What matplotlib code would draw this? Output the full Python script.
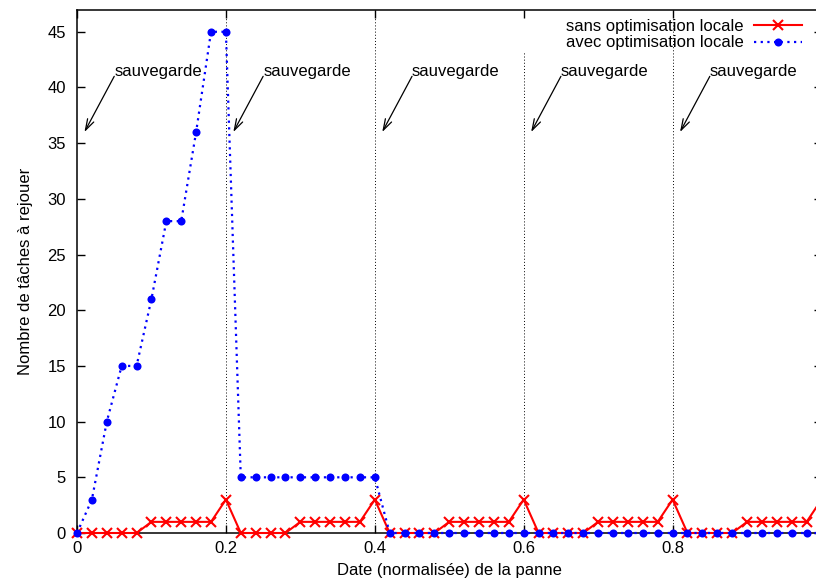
import numpy as np
import matplotlib
matplotlib.use("Agg")
import matplotlib.pyplot as plt

# ---- Data ----
dates = [0.00, 0.02, 0.04, 0.06, 0.08, 0.10, 0.12, 0.14, 0.16, 0.18,
         0.20, 0.22, 0.24, 0.26, 0.28, 0.30, 0.32, 0.34, 0.36, 0.38,
         0.40, 0.42, 0.44, 0.46, 0.48, 0.50, 0.52, 0.54, 0.56, 0.58,
         0.60, 0.62, 0.64, 0.66, 0.68, 0.70, 0.72, 0.74, 0.76, 0.78,
         0.80, 0.82, 0.84, 0.86, 0.88, 0.90, 0.92, 0.94, 0.96, 0.98,
         1.00]

sans_optim = [0, 0, 0, 0, 0, 1, 1, 1, 1, 1,
              3, 0, 0, 0, 0, 1, 1, 1, 1, 1,
              3, 0, 0, 0, 0, 1, 1, 1, 1, 1,
              3, 0, 0, 0, 0, 1, 1, 1, 1, 1,
              3, 0, 0, 0, 0, 1, 1, 1, 1, 1,
              3]

avec_optim = [0, 3, 10, 15, 15, 21, 28, 28, 36, 45,
              45, 5, 5, 5, 5, 5, 5, 5, 5, 5,
              5, 0, 0, 0, 0, 0, 0, 0, 0, 0,
              0, 0, 0, 0, 0, 0, 0, 0, 0, 0,
              0, 0, 0, 0, 0, 0, 0, 0, 0, 0,
              0]

# checkpoints ("sauvegarde") and how high their marker line goes
save_dates = [0.2, 0.4, 0.6, 0.8]
save_tops = [47, 47, 43.2, 47]
label_dates = [0.0, 0.2, 0.4, 0.6, 0.8]

plt.rcParams['font.family'] = ['Liberation Sans', 'DejaVu Sans']
plt.rcParams['font.size'] = 12

fig = plt.figure(figsize=(8.16, 5.85), dpi=100)
W, H = 816, 585
ax = fig.add_axes([77 / W, 52 / H, (821.5 - 77) / W, (533 - 9.5) / H])

for d, top in zip(save_dates, save_tops):
    ax.plot([d, d], [0, top], color='black', lw=0.7, ls=(0, (1, 2.2)), zorder=1)

ax.plot(dates, sans_optim, color='#ff0000', lw=1.5, marker='x', ms=7, mew=1.5,
        label='sans optimisation locale', clip_on=False, zorder=3)
ax.plot(dates, avec_optim, color='#0000ff', lw=1.6, ls=(0, (1, 2)), marker='o',
        ms=5.8, markeredgewidth=0, label='avec optimisation locale',
        clip_on=False, zorder=4)

for d in label_dates:
    ax.annotate('', xy=(d + 0.01, 36), xytext=(d + 0.05, 41),
                arrowprops=dict(arrowstyle='->, head_length=0.8, head_width=0.25',
                                color='black', lw=0.9, shrinkA=0, shrinkB=0,
                                mutation_scale=10))
    ax.text(d + 0.05, 41.4, 'sauvegarde', ha='left', va='center')

ax.set_xlim(0, 1)
ax.set_ylim(0, 47)
ax.set_xticks([0, 0.2, 0.4, 0.6, 0.8])
ax.set_xticklabels(['0', '0.2', '0.4', '0.6', '0.8'])
ax.set_yticks(range(0, 46, 5))
ax.tick_params(direction='in', length=6, width=1.0, top=True, right=True,
               labelsize=12, pad=6)
ax.tick_params(axis='y', pad=8)
for s in ax.spines.values():
    s.set_linewidth(1.1)

ax.set_xlabel('Date (normalisée) de la panne', labelpad=5)
ax.set_ylabel('Nombre de tâches à rejouer', labelpad=10)

ax.legend(loc='upper right', bbox_to_anchor=(802 / W, 1 - 19 / H),
          bbox_transform=fig.transFigure, frameon=False, markerfirst=False,
          handlelength=2.9, handletextpad=0.6, borderpad=0, borderaxespad=0,
          labelspacing=0.08)

fig.savefig('out.png', dpi=100)
